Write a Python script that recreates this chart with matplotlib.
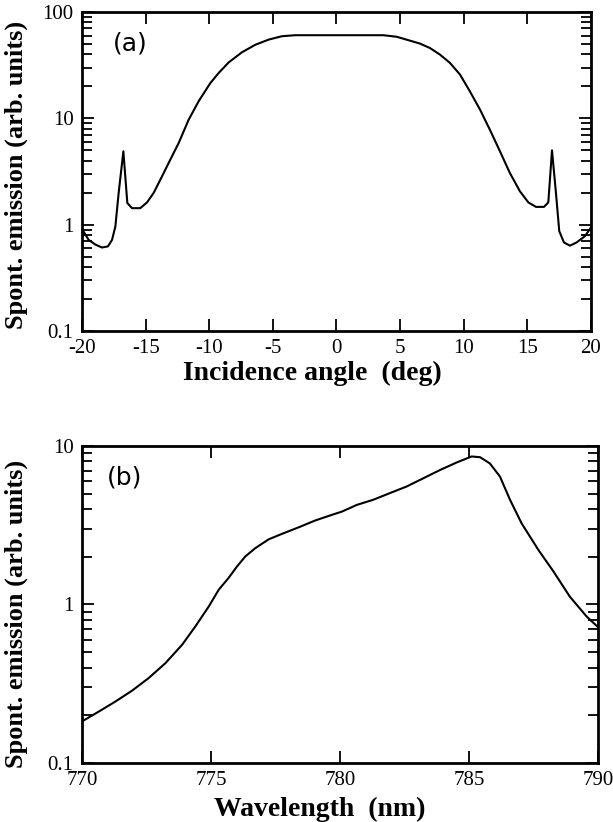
import matplotlib
matplotlib.use("Agg")
import matplotlib.pyplot as plt
from matplotlib.ticker import LogLocator, FixedLocator, FixedFormatter, NullFormatter

# panel (a): spontaneous emission vs incidence angle
angle_deg = [-20.0, -19.48, -18.95, -18.43, -17.96, -17.64, -17.38, -17.12, -16.75, -16.44,
             -16.07, -15.42, -14.89, -14.37, -13.71, -13.06, -12.4, -11.62, -10.83, -9.91,
             -9.26, -8.47, -7.43, -6.38, -5.33, -4.28, -3.24, 0.3, 3.68, 4.73,
             6.56, 7.35, 8.13, 8.92, 9.71, 10.49, 11.28, 12.06, 12.85, 13.63,
             14.42, 15.08, 15.68, 16.31, 16.65, 16.94, 17.25, 17.51, 17.88, 18.35,
             18.87, 19.53, 20.0]
emission_a = [0.91, 0.72, 0.65, 0.61, 0.625, 0.72, 0.96, 1.99, 4.9, 1.6,
              1.43, 1.43, 1.62, 1.99, 2.85, 4.09, 5.87, 9.7, 14.5, 21.5,
              26.7, 33.6, 41.8, 49.2, 55.0, 59.2, 60.5, 60.5, 60.5, 58.5,
              50.5, 45.8, 39.8, 33.2, 25.8, 17.9, 12.1, 7.8, 4.9, 3.06,
              2.06, 1.62, 1.47, 1.47, 1.62, 5.0, 1.99, 0.87, 0.68, 0.635,
              0.68, 0.78, 0.94]

# panel (b): spontaneous emission vs wavelength
wavelength_nm = [770.0, 770.65, 771.29, 771.94, 772.58, 773.23, 773.88, 774.39, 774.91, 775.3,
                 775.68, 776.01, 776.33, 776.72, 777.24, 777.75, 778.4, 779.04, 779.69, 780.08,
                 780.65, 781.29, 781.94, 782.58, 783.23, 783.88, 784.52, 785.1, 785.43, 785.81,
                 786.2, 786.59, 787.04, 787.69, 788.27, 788.91, 789.56, 790.0]
emission_b = [0.183, 0.211, 0.244, 0.286, 0.343, 0.426, 0.557, 0.726, 0.97, 1.24,
              1.47, 1.74, 2.01, 2.27, 2.58, 2.79, 3.07, 3.39, 3.68, 3.86,
              4.25, 4.58, 5.05, 5.55, 6.26, 7.06, 7.87, 8.59, 8.5, 7.76,
              6.42, 4.58, 3.25, 2.21, 1.62, 1.12, 0.84, 0.72]

serif = "Liberation Serif"
plt.rcParams["font.family"] = [serif, "DejaVu Serif"]
plt.rcParams["axes.unicode_minus"] = False

fig = plt.figure(figsize=(6.13, 8.22), dpi=100)
ax_a = fig.add_axes([0.1338, 0.5973, 0.8302, 0.3881])
ax_b = fig.add_axes([0.1338, 0.0718, 0.8417, 0.3856])


def style_axes(ax, xticks, yticks):
    ax.set_yscale("log")
    for sp in ax.spines.values():
        sp.set_linewidth(2.0)
    ax.xaxis.set_major_locator(FixedLocator(xticks))
    ax.yaxis.set_major_locator(FixedLocator(yticks))
    ax.yaxis.set_major_formatter(FixedFormatter([f"{v:g}" for v in yticks]))
    ax.yaxis.set_minor_locator(LogLocator(base=10, subs=range(2, 10)))
    ax.yaxis.set_minor_formatter(NullFormatter())
    ax.tick_params(axis="both", which="both", direction="in", top=True, right=True,
                   width=1.3, labelsize=15)
    ax.tick_params(axis="x", which="major", length=8.5, pad=6)
    ax.tick_params(axis="y", which="major", length=8.5, pad=6)
    ax.tick_params(axis="y", which="minor", length=7.5)


ax_a.plot(angle_deg, emission_a, color="black", lw=1.5)
ax_a.set_xlim(-20, 20)
ax_a.set_ylim(0.1, 100)
style_axes(ax_a, [-20, -15, -10, -5, 0, 5, 10, 15, 20], [0.1, 1, 10, 100])
ax_a.set_xlabel("Incidence angle  (deg)", fontweight="bold", fontsize=20)
ax_a.xaxis.set_label_coords(0.452, -0.093)
ax_a.set_ylabel("Spont. emission (arb. units)", fontweight="bold", fontsize=19)
ax_a.yaxis.set_label_coords(-0.107, 0.49)
ax_a.text(0.094, 0.90, "(a)", transform=ax_a.transAxes, fontsize=18,
          fontfamily="DejaVu Sans", ha="center", va="center")

ax_b.plot(wavelength_nm, emission_b, color="black", lw=1.5)
ax_b.set_xlim(770, 790)
ax_b.set_ylim(0.1, 10)
style_axes(ax_b, [770, 775, 780, 785, 790], [0.1, 1, 10])
ax_b.set_xlabel("Wavelength  (nm)", fontweight="bold", fontsize=20)
ax_b.xaxis.set_label_coords(0.461, -0.108)
ax_b.set_ylabel("Spont. emission (arb. units)", fontweight="bold", fontsize=19)
ax_b.yaxis.set_label_coords(-0.105, 0.47)
ax_b.text(0.083, 0.90, "(b)", transform=ax_b.transAxes, fontsize=18,
          fontfamily="DejaVu Sans", ha="center", va="center")

fig.savefig("out.png", dpi=100)
